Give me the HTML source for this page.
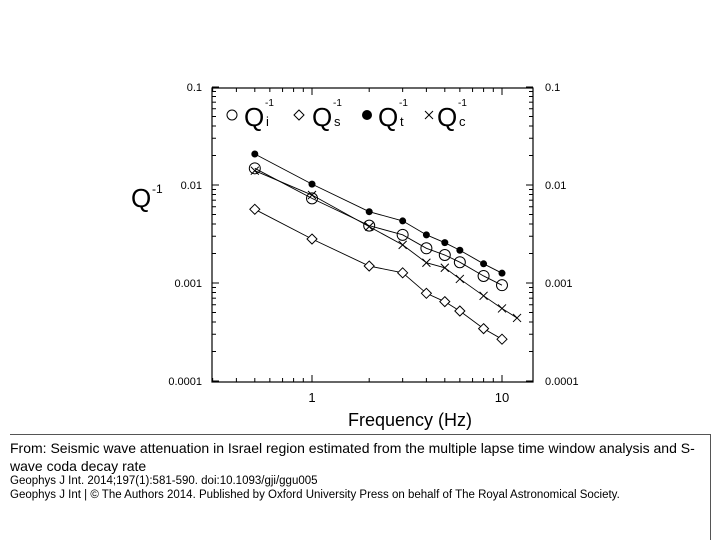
<!DOCTYPE html>
<html><head><meta charset="utf-8"><style>
body{margin:0;width:720px;height:540px;background:#fff;font-family:"Liberation Sans",sans-serif;overflow:hidden;position:relative}
.cap{position:absolute;left:10px;font-size:12.5px;color:#000;white-space:nowrap}
</style></head><body>
<svg width="720" height="435" style="position:absolute;left:0;top:0" font-family="Liberation Sans, sans-serif">
<g id="g"></g>
</svg>
<div style="position:absolute;left:10px;top:434px;width:701px;height:1px;background:#555"></div>
<div style="position:absolute;left:710px;top:434px;width:1px;height:106px;background:#555"></div>
<div class="cap" style="top:439px;font-size:14px;line-height:18px;white-space:normal;width:690px">From: Seismic wave attenuation in Israel region estimated from the multiple lapse time window analysis and S-wave coda decay rate</div>
<div class="cap" style="top:475px;font-size:11.5px">Geophys J Int. 2014;197(1):581-590. doi:10.1093/gji/ggu005</div>
<div class="cap" style="top:489px;font-size:11.5px">Geophys J Int | © The Authors 2014. Published by Oxford University Press on behalf of The Royal Astronomical Society.</div>
<script>
const freqs=[0.5,1,2,3,4,5,6,8,10];
const freqsC=[0.5,1,2,3,4,5,6,8,10,12];
const qt=[0.0207,0.0102,0.00534,0.0043,0.0031,0.00258,0.00216,0.00157,0.00126];
const qi=[0.0148,0.0073,0.00385,0.0031,0.00226,0.00193,0.00163,0.00118,0.00095];
const qs=[0.00565,0.00281,0.00149,0.00127,0.000785,0.000645,0.000518,0.000342,0.000267];
const qc=[0.014,0.0079,0.00376,0.00245,0.00161,0.00143,0.0011,0.00074,0.00055,0.00044];
const yTicks=["0.1","0.01","0.001","0.0001"];
const xTicks=["1","10"];
const L=212,R=533,T=88,B=382;
const X=f=>312+190*Math.log10(f);
const Y=v=>185-98*(Math.log10(v)+2);
const g=document.getElementById('g');const NS='http://www.w3.org/2000/svg';
function mk(t,a,p){const e=document.createElementNS(NS,t);for(const k in a)e.setAttribute(k,a[k]);(p||g).appendChild(e);return e;}
let fr=mk('rect',{x:L,y:T,width:R-L,height:B-T,fill:'none',stroke:'#000','stroke-width':1.2});

for(let d=-4;d<=-1;d++){for(let m=1;m<10;m++){if(d==-1&&m>1)break;const y=Y(m*Math.pow(10,d));const len=m==1?7:4;
mk('line',{x1:L,y1:y,x2:L+len,y2:y,stroke:'#000'});mk('line',{x1:R,y1:y,x2:R-len,y2:y,stroke:'#000'});}}
yTicks.forEach((s,i)=>{const y=Y(Math.pow(10,-1-i));
let a=mk('text',{x:L-10,y:y+4,'text-anchor':'end','font-size':11});a.textContent=s;
let b=mk('text',{x:R+12,y:y+4,'font-size':11});b.textContent=s;});
for(let d=-1;d<=1;d++){for(let m=1;m<10;m++){const f=m*Math.pow(10,d);const x=X(f);if(x<L||x>R)continue;const len=m==1?7:4;
mk('line',{x1:x,y1:B,x2:x,y2:B-len,stroke:'#000'});mk('line',{x1:x,y1:T,x2:x,y2:T+len,stroke:'#000'});}}
xTicks.forEach((s,i)=>{let t=mk('text',{x:X(Math.pow(10,i)),y:B+20,'text-anchor':'middle','font-size':13});t.textContent=s;});
let xt=mk('text',{x:410,y:426,'text-anchor':'middle','font-size':18});xt.textContent='Frequency (Hz)';
let yt=mk('text',{x:131,y:207,'font-size':26});yt.textContent='Q';
let ys=mk('text',{x:152,y:193,'font-size':12});ys.textContent='-1';
function series(fs,vs,name,marker){const pts=fs.map((f,i)=>X(f)+','+Y(vs[i])).join(' ');
let pl=mk('polyline',{points:pts,fill:'none',stroke:'#000','stroke-width':0.9});
fs.forEach((f,i)=>{const x=X(f),y=Y(vs[i]);let e;
if(marker=='o')e=mk('circle',{cx:x,cy:y,r:5.5,fill:'none',stroke:'#000','stroke-width':1});
else if(marker=='f')e=mk('circle',{cx:x,cy:y,r:3.5,fill:'#000'});
else if(marker=='d')e=mk('polygon',{points:`${x},${y-5} ${x+5},${y} ${x},${y+5} ${x-5},${y}`,fill:'#fff',stroke:'#000'});
else e=mk('path',{d:`M${x-4},${y-4}L${x+4},${y+4}M${x-4},${y+4}L${x+4},${y-4}`,stroke:'#000'});
});}
series(freqs,qs,'qs','d');series(freqsC,qc,'qc','x');series(freqs,qi,'qi','o');series(freqs,qt,'qt','f');
const lg=mk('g',{});
mk('circle',{cx:232,cy:115,r:5,fill:'none',stroke:'#000'},lg);
mk('polygon',{points:'299,110 304,115 299,120 294,115',fill:'none',stroke:'#000'},lg);
mk('circle',{cx:367,cy:115,r:5,fill:'#000'},lg);
mk('path',{d:'M425,111L433,119M425,119L433,111',stroke:'#000'},lg);
[['i',244],['s',312],['t',378],['c',437]].forEach(([s,x])=>{
let t=mk('text',{x:x,y:126,'font-size':26},lg);t.textContent='Q';
let u=mk('text',{x:x+21,y:106,'font-size':10},lg);u.textContent='-1';
let v=mk('text',{x:x+22,y:126,'font-size':13},lg);v.textContent=s;});
</script>
</body></html>
